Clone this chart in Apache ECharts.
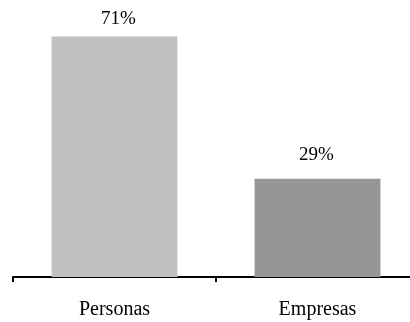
<!DOCTYPE html>
<html>
<head>
<meta charset="utf-8">
<style>
  html, body { margin: 0; padding: 0; background: #ffffff; }
  #chart { width: 410px; height: 322px; }
</style>
<script src="https://cdn.jsdelivr.net/npm/echarts@6/dist/echarts.min.js"></script>
</head>
<body>
<div id="chart"></div>
<script>
// Share of clients by type (percent)
const categories = ['Personas', 'Empresas'];
const shares = [71, 29];

// Bar fills, one per category
const barColors = ['#c0c0c0', '#969696'];
// Gap between each value label and its bar, and its sideways nudge
const labelGaps = [8, 14];
const labelShift = [4, -1];

const chart = echarts.init(document.getElementById('chart'), null, { renderer: 'canvas' });

const FONT = '"Liberation Serif", "Times New Roman", serif';

chart.setOption({
  animation: false,
  backgroundColor: '#ffffff',
  grid: {
    left: 13, width: 406, top: 6, bottom: 45,
    containLabel: false,
    outerBoundsMode: 'none'
  },
  xAxis: {
    type: 'category',
    data: categories,
    axisLine: { show: true, lineStyle: { color: '#000000', width: 2 } },
    axisTick: { show: true, alignWithLabel: false, length: 5, lineStyle: { color: '#000000', width: 2 } },
    axisLabel: { color: '#000000', fontFamily: FONT, fontSize: 20, margin: 23 }
  },
  yAxis: {
    type: 'value',
    min: 0,
    max: 80,
    show: false,
    splitLine: { show: false }
  },
  series: [{
    type: 'bar',
    barWidth: '62%',
    data: shares.map((v, i) => ({
      value: v,
      itemStyle: { color: barColors[i] },
      label: { distance: labelGaps[i], offset: [labelShift[i], 0] }
    })),
    label: {
      show: true,
      position: 'top',
      color: '#000000',
      fontFamily: FONT,
      fontSize: 19,
      formatter: p => p.value + '%'
    }
  }]
});
</script>
</body>
</html>
